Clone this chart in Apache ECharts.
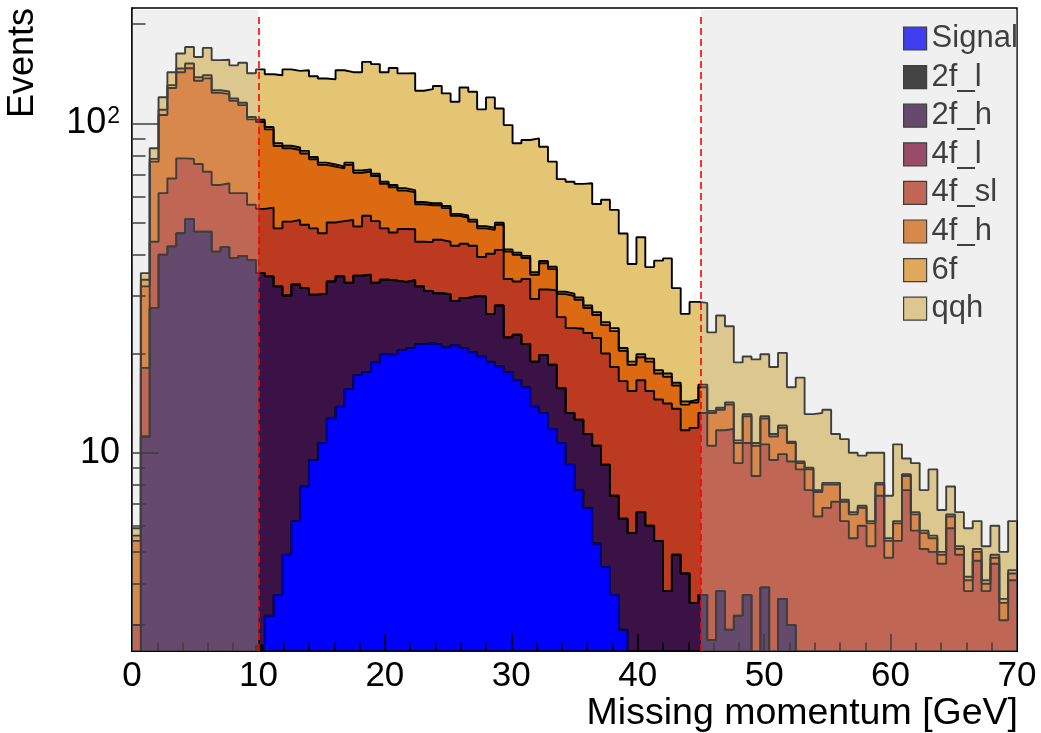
<!DOCTYPE html>
<html>
<head>
<meta charset="utf-8">
<script src="https://cdn.jsdelivr.net/npm/echarts@6/dist/echarts.min.js"></script>
<style>
html,body{margin:0;padding:0;background:#ffffff;}
#chart{width:1041px;height:733px;}
</style>
</head>
<body>
<div id="chart"></div>
<script>
// ---------------- axis / binning ----------------
const X_MIN = 0, X_MAX = 70, BIN_WIDTH = 0.7;
const Y_MIN = 2.5, Y_MAX = 224;
const CUT_LOW = 10, CUT_HIGH = 45;
const xTickValues = [0, 10, 20, 30, 40, 50, 60, 70];
const yMajorTicks = [10, 100];
const yMinorTicks = [3, 4, 5, 6, 7, 8, 9, 20, 30, 40, 50, 60, 70, 80, 90, 200];
const processNames = ['Signal', '2f_l', '2f_h', '4f_l', '4f_sl', '4f_h', '6f', 'qqh'];
const xTitle = 'Missing momentum [GeV]';
const yTitle = 'Events';

// ---------------- events per 0.7 GeV bin (100 bins) ----------------
const signal = [
  0,0,0,0,0,0,0,0,0,0,
  0,0,0,0,0,3.2,3.7,4.9,6.2,7.9,
  9.5,10.7,12.7,13.8,15.6,17.2,17.6,18.8,19.9,19.8,
  20.5,20.8,21.4,21.5,21.3,20.9,21.2,20.8,20.2,19.6,
  18.9,18.3,17.6,16.6,15.8,13.8,13.2,11.8,10.7,9.2,
  7.7,6.8,5.3,4.5,3.7,2.9,0,0,0,0,
  0,0,0,0,0,0,0,0,0,0,
  0,0,0,0,0,0,0,0,0,0,
  0,0,0,0,0,0,0,0,0,0,
  0,0,0,0,0,0,0,0,0,0
];
const bkg2fl = [
  0,0,0,0,0,0,0,0,0,0,
  0,0,0,0,2.6,0,0,0,0,0,
  0,0,0,0,0,0,0,0,0,0,
  0,0,0,0,0,0,0,0,0,0,
  0,0,0,0,0,0,0,0,0,0,
  0,0,0,0,0,0,0,0,0,0,
  0,0,0,0,0,0,0,0,0,0,
  0,0,0,0,0,0,0,0,0,0,
  0,0,0,0,0,0,0,0,0,0,
  0,0,0,0,0,0,0,0,0,0
];
const bkg2fh = [
  0,11.2,27.5,39.9,42.3,46.4,51.2,46.9,46.9,40.8,
  42.1,39.0,39.6,38.5,32.5,31.1,28.3,25.1,26.2,23.7,
  20.7,19.7,20.4,20.5,17.2,17.3,17.1,14.0,13.6,13.5,
  12.5,12.6,10.6,9.5,9.2,9.4,7.7,8.7,9.7,10.2,
  7.5,9.7,4.8,6.2,5.6,5.1,6.6,6.7,5.0,4.0,
  4.9,4.6,5.2,4.7,3.7,3.4,5.7,6.6,6.0,5.4,
  3.8,4.9,4.3,3.5,3.7,2.7,3.8,2.9,3.2,3.7,
  0,3.9,0,3.6,3.0,0,0,0,0,0,
  0,0,0,0,0,0,0,0,0,0,
  0,0,0,0,0,0,0,0,0,0
];
const bkg4fl = [
  0,0,0,0,0,0,0,0,0,0,
  0,0,0,0,0,0,0,0,0,0,
  0,0,0,0,0,0,0,0,0,0,
  0,0,0,0,0,0,0,0,0,0,
  0,0,0,0,0,0,0,0,0,0,
  0,0,0,0,0,0,0,0,0,0,
  0,0,0,0,0,0,0,0,0,0,
  0,0,0,0,0,0,0,0,0,0,
  0,0,0,0,0,0,0,0,0,0,
  0,0,0,0,0,0,0,0,0,0
];
const bkg4fsl = [
  3.0,6.9,16.2,21.5,25.7,31.9,26.8,28.4,24.4,24.2,
  23.7,22.4,21.8,18.1,19.9,21.2,16.0,20.3,18.5,17.6,
  17.8,16.0,16.9,16.2,18.1,14.1,17.7,17.7,14.5,13.3,
  14.8,14.3,11.7,12.6,13.8,13.4,13.6,13.6,12.6,9.5,
  13.8,13.3,11.3,10.3,12.3,10.4,11.5,12.6,10.1,10.7,
  11.2,11.7,11.8,10.8,10.8,10.2,9.7,10.0,9.4,9.1,
  10.3,8.7,7.4,8.4,9.5,7.8,7.9,8.9,6.1,7.0,
  8.5,6.7,9.5,6.3,6.4,8.9,7.7,6.4,6.8,7.1,
  6.2,5.5,6.0,5.2,7.4,4.8,5.4,7.7,5.8,5.1,
  5.0,4.6,5.9,4.9,3.8,4.7,3.8,4.6,3.1,4.1
];
const bkg4fh = [
  2.4,13.9,32.8,44.6,60.0,64.7,69.0,59.4,65.7,58.8,
  56.9,55.6,52.2,46.2,46.0,40.4,37.4,33.7,32.1,31.8,
  29.8,28.4,23.9,22.5,23.9,22.2,19.0,18.7,17.5,17.4,
  14.7,14.0,13.1,12.8,12.1,11.6,9.9,8.7,7.8,8.7,
  7.3,7.9,7.1,6.8,5.3,5.4,6.3,5.0,4.5,6.0,
  5.3,4.4,3.9,4.4,5.2,3.9,3.1,2.9,3.5,2.9,
  2.9,2.4,2.3,2.3,2.6,2.7,1.8,2.2,1.4,2.2,
  2.0,2.1,1.7,2.0,1.3,0.4,1.2,1.2,1.2,0.9,
  0.9,1.0,0.8,0.9,0.6,0.6,0.7,0.8,0.7,0.6,
  0.5,0.3,0.5,0.2,0.3,0.3,0.2,0.2,0.4,0.2
];
const bkg6f = [
  0.2,1.5,1.5,4.0,2.6,3.8,5.0,3.3,3.0,2.2,
  2.3,2.0,1.9,1.7,1.5,1.6,1.6,1.5,1.5,1.5,
  1.2,1.2,1.1,1.0,1.2,1.2,1.1,1.1,1.0,1.0,
  1.0,1.0,0.9,0.8,0.8,0.8,0.7,0.7,0.7,0.7,
  0.7,0.7,0.6,0.6,0.6,0.6,0.6,0.6,0.5,0.5,
  0.5,0.5,0.5,0.5,0.5,0.4,0.4,0.4,0.4,0.4,
  0.4,0.3,0.3,0.3,0.3,0.2,0.2,0.2,0.2,0.2,
  0.2,0.2,0.2,0.2,0.1,0.1,0.1,0.1,0.1,0.1,
  0.1,0.1,0.1,0.1,0.1,0.1,0.1,0.1,0.1,0.1,
  0.1,0.1,0.1,0.1,0.1,0.1,0.1,0.1,0.1,0.1
];
const qqh = [
  0.3,1.6,6.0,10.0,12.4,16.2,18.6,21.0,29.5,29.6,
  31.0,31.0,37.3,37.5,43.3,43.5,53.0,60.3,59.8,62.5,
  60.0,60.9,61.0,71.0,67.0,71.0,81.2,81.0,76.4,82.3,
  78.3,79.3,67.9,69.8,72.6,67.2,63.2,76.0,73.7,61.6,
  71.7,61.1,57.4,46.5,49.4,54.7,46.7,39.8,36.9,36.1,
  35.9,37.8,30.2,33.7,30.7,25.5,18.5,25.2,17.3,20.5,
  21.5,15.3,12.1,14.2,12.4,9.8,12.4,10.0,7.9,6.5,
  8.5,7.0,6.8,8.0,5.0,7.5,4.1,5.5,5.4,3.3,
  3.8,3.4,2.9,3.8,1.9,1.9,4.4,1.0,2.7,1.9,
  3.3,1.7,1.4,1.4,1.7,1.1,1.1,1.1,1.4,1.8
];

// ---------------- styling ----------------
const FONT = '"Liberation Sans", Arial, Helvetica, sans-serif';
const fillColors = ['#0000ff', '#0a0a0a', '#3a1245', '#85133b', '#bb3a20', '#dc6a12', '#e99929', '#e3c574'];
const OVERLAY = 'rgba(204,204,204,0.3)';

// ---------------- build stacked step outlines ----------------
const layers = [signal, bkg2fl, bkg2fh, bkg4fl, bkg4fsl, bkg4fh, bkg6f, qqh];
const nBins = signal.length;
const FLOOR = 0.01; // below axis range, clipped away
const cumulative = [];
let running = new Array(nBins).fill(0);
layers.forEach(arr => {
  running = running.map((v, i) => v + arr[i]);
  cumulative.push(running.slice());
});
function stepPoints(cum) {
  const pts = [[X_MIN, FLOOR]];
  for (let i = 0; i < nBins; i++) {
    pts.push([X_MIN + i * BIN_WIDTH, Math.max(cum[i], FLOOR)]);
  }
  pts.push([X_MAX, Math.max(cum[nBins - 1], FLOOR)]);
  pts.push([X_MAX, FLOOR]);
  return pts;
}

const series = [];
for (let k = layers.length - 1; k >= 0; k--) {
  series.push({
    type: 'line',
    name: processNames[k],
    data: stepPoints(cumulative[k]),
    step: 'end',
    symbol: 'none',
    showSymbol: false,
    silent: true,
    clip: true,
    color: fillColors[k],
    z: 2,
    lineStyle: { color: k === 0 ? '#00009a' : '#000000', width: k === 0 ? 1.4 : 1.9 },
    areaStyle: { color: fillColors[k], opacity: 1, origin: 'start' }
  });
}
// shaded (rejected) regions + cut lines
series.push({
  type: 'line', name: '_cuts', data: [], silent: true, z: 10,
  markArea: {
    silent: true, z: 10,
    itemStyle: { color: OVERLAY, borderWidth: 0 },
    data: [
      [{ xAxis: X_MIN, yAxis: Y_MIN }, { xAxis: CUT_LOW, yAxis: 221 }],
      [{ xAxis: CUT_HIGH, yAxis: Y_MIN }, { xAxis: X_MAX, yAxis: 221 }]
    ]
  },
  markLine: {
    silent: true, z: 11, symbol: 'none',
    label: { show: false },
    lineStyle: { color: '#ff0000', type: [7, 4], width: 1.6 },
    data: [
      [{ xAxis: CUT_LOW, yAxis: Y_MIN }, { xAxis: CUT_LOW, yAxis: 215 }],
      [{ xAxis: CUT_HIGH, yAxis: Y_MIN }, { xAxis: CUT_HIGH, yAxis: 215 }]
    ]
  }
});

function yLabel(v) {
  const e = Math.round(Math.log10(v));
  return e === 1 ? '{b|10}' : '{b|10}{s|' + e + '}';
}

const option = {
  animation: false,
  backgroundColor: '#ffffff',
  grid: { left: 132, right: 24, top: 8, bottom: 82, show: true, borderColor: '#000', borderWidth: 1.5, backgroundColor: 'transparent' },
  xAxis: {
    type: 'value', min: X_MIN, max: X_MAX, interval: 10, z: 3,
    axisLine: { show: true, onZero: false, lineStyle: { color: '#000', width: 1.5 } },
    axisTick: { show: true, inside: true, length: 17, customValues: xTickValues, lineStyle: { color: '#000', width: 1.5 } },
    minorTick: { show: true, splitNumber: 5, length: 8.5, lineStyle: { color: '#000', width: 1.5 } },
    axisLabel: { show: true, customValues: xTickValues, margin: 8, fontSize: 35, fontFamily: FONT, color: '#000' },
    splitLine: { show: false }
  },
  yAxis: [
    {
      type: 'log', logBase: 10, min: Y_MIN, max: Y_MAX, z: 3,
      axisLine: { show: true, lineStyle: { color: '#000', width: 1.5 } },
      axisTick: { show: true, inside: true, length: 27, customValues: yMajorTicks, lineStyle: { color: '#000', width: 1.5 } },
      axisLabel: {
        show: true, customValues: yMajorTicks, margin: 12, formatter: yLabel,
        rich: {
          b: { fontSize: 36, fontFamily: FONT, color: '#000' },
          s: { fontSize: 23, fontFamily: FONT, color: '#000', verticalAlign: 'top', padding: [0, 0, 14, 1] }
        }
      },
      splitLine: { show: false }
    },
    {
      type: 'log', logBase: 10, min: Y_MIN, max: Y_MAX, z: 3, position: 'left',
      axisLine: { show: false },
      axisTick: { show: true, inside: true, length: 13.5, customValues: yMinorTicks, lineStyle: { color: '#000', width: 1.5 } },
      axisLabel: { show: false },
      splitLine: { show: false }
    }
  ],
  legend: {
    orient: 'vertical', left: 903, top: 23, padding: 0,
    itemWidth: 23, itemHeight: 23, itemGap: 7.6, icon: 'rect',
    selectedMode: false, z: 4,
    data: processNames,
    itemStyle: { borderColor: '#000', borderWidth: 1.2 },
    textStyle: { fontSize: 31, fontFamily: FONT, color: '#000', lineHeight: 31 }
  },
  graphic: [
    { type: 'text', x: 1018, y: 733, silent: true,
      style: { text: xTitle, font: '37.5px ' + FONT, fill: '#000', align: 'right', verticalAlign: 'bottom' } },
    { type: 'text', x: 41, y: 118, rotation: Math.PI / 2, silent: true,
      style: { text: yTitle, font: '36px ' + FONT, fill: '#000', align: 'left', verticalAlign: 'bottom' } }
  ],
  series: series
};

const chart = echarts.init(document.getElementById('chart'), null, { renderer: 'canvas' });
chart.setOption(option);
</script>
</body>
</html>
